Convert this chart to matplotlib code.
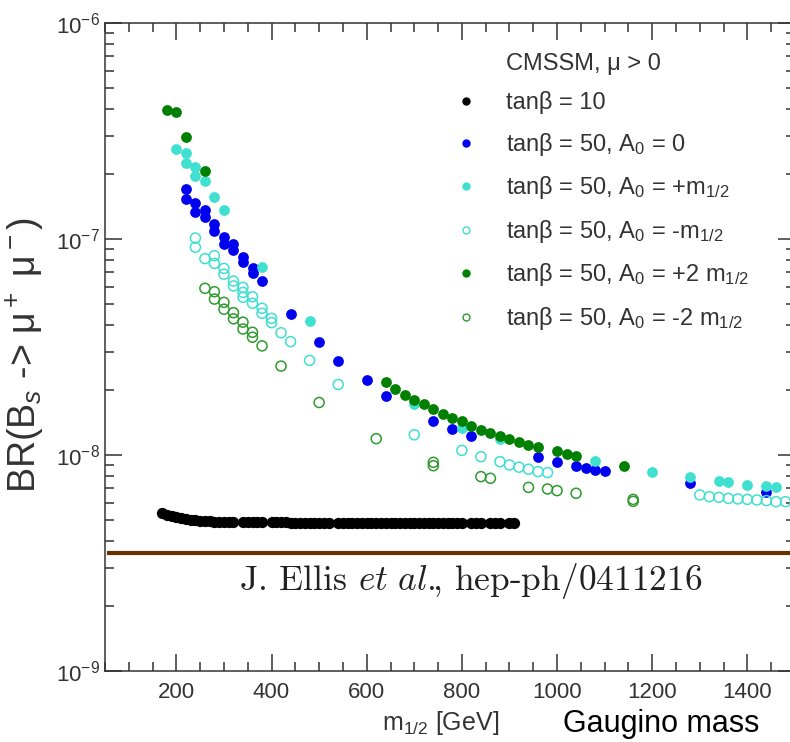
import matplotlib
matplotlib.use("Agg")
import matplotlib.pyplot as plt
from matplotlib.lines import Line2D
from matplotlib.ticker import MultipleLocator, LogLocator, FixedLocator, FixedFormatter, NullFormatter

plt.rcParams['font.family'] = ['Liberation Sans', 'DejaVu Sans']
plt.rcParams['mathtext.fontset'] = 'custom'
plt.rcParams['mathtext.rm'] = 'Liberation Sans'
plt.rcParams['mathtext.it'] = 'Liberation Sans:italic'
plt.rcParams['mathtext.bf'] = 'Liberation Sans:bold'

# tan(beta) = 10 scan
m_tb10 = [170, 180, 190, 200, 210, 220, 230, 240, 250, 260, 270, 280, 290, 300,
          310, 320, 340, 350, 360, 370, 380, 400, 410, 420, 430, 440, 450, 460,
          470, 480, 490, 500, 510, 520, 540, 550, 560, 570, 580, 590, 600, 610,
          620, 630, 640, 650, 660, 670, 680, 690, 700, 710, 720, 730, 740, 750,
          760, 770, 780, 790, 800, 820, 830, 840, 860, 870, 880, 900, 910]
br_tb10 = [5.37e-9, 5.28e-9, 5.21e-9, 5.14e-9, 5.09e-9, 5.05e-9, 5.02e-9, 4.99e-9,
           4.97e-9, 4.95e-9, 4.93e-9, 4.92e-9, 4.91e-9, 4.90e-9, 4.90e-9, 4.89e-9,
           4.89e-9, 4.88e-9, 4.88e-9, 4.88e-9, 4.87e-9, 4.87e-9, 4.87e-9, 4.87e-9,
           4.87e-9, 4.86e-9, 4.86e-9, 4.86e-9, 4.86e-9, 4.86e-9, 4.86e-9, 4.86e-9,
           4.86e-9, 4.86e-9, 4.86e-9, 4.86e-9, 4.85e-9, 4.85e-9, 4.85e-9, 4.85e-9,
           4.85e-9, 4.85e-9, 4.85e-9, 4.85e-9, 4.85e-9, 4.85e-9, 4.85e-9, 4.85e-9,
           4.85e-9, 4.85e-9, 4.85e-9, 4.85e-9, 4.85e-9, 4.85e-9, 4.85e-9, 4.85e-9,
           4.85e-9, 4.85e-9, 4.85e-9, 4.84e-9, 4.84e-9, 4.84e-9, 4.84e-9, 4.84e-9,
           4.84e-9, 4.84e-9, 4.84e-9, 4.83e-9, 4.83e-9]

# tan(beta) = 50, A0 = 0
m_a0 = [220, 220, 240, 240, 260, 260, 280, 280, 300, 300, 320, 320, 340, 340,
        360, 360, 380, 440, 500, 540, 600, 640, 740, 780, 820, 960, 1000, 1040,
        1060, 1080, 1100, 1280, 1440]
br_a0 = [1.70e-7, 1.53e-7, 1.46e-7, 1.33e-7, 1.36e-7, 1.26e-7, 1.17e-7, 1.09e-7,
         1.02e-7, 9.48e-8, 9.48e-8, 8.89e-8, 8.28e-8, 7.80e-8, 7.36e-8, 6.93e-8,
         6.39e-8, 4.50e-8, 3.32e-8, 2.72e-8, 2.22e-8, 1.88e-8, 1.44e-8, 1.32e-8,
         1.22e-8, 9.76e-9, 9.31e-9, 8.89e-9, 8.68e-9, 8.53e-9, 8.44e-9, 7.39e-9,
         6.72e-9]

# tan(beta) = 50, A0 = +m1/2
m_ap1 = [200, 220, 220, 240, 240, 260, 280, 300, 380, 480, 700, 800, 880, 1080,
         1200, 1280, 1340, 1360, 1400, 1440, 1460]
br_ap1 = [2.61e-7, 2.51e-7, 2.26e-7, 2.16e-7, 1.96e-7, 1.85e-7, 1.57e-7, 1.36e-7,
          7.44e-8, 4.19e-8, 1.72e-8, 1.33e-8, 1.19e-8, 9.37e-9, 8.37e-9, 7.94e-9,
          7.58e-9, 7.52e-9, 7.26e-9, 7.18e-9, 7.08e-9]

# tan(beta) = 50, A0 = -m1/2
m_am1 = [240, 240, 260, 280, 280, 300, 300, 320, 320, 340, 340, 340, 360, 360,
         380, 380, 400, 400, 420, 440, 480, 540, 700, 800, 840, 880, 900, 920,
         940, 960, 980, 1300, 1320, 1340, 1360, 1380, 1400, 1420, 1440, 1460, 1480]
br_am1 = [1.01e-7, 9.16e-8, 8.11e-8, 8.37e-8, 7.71e-8, 7.31e-8, 6.87e-8, 6.39e-8,
          6.06e-8, 5.97e-8, 5.66e-8, 5.37e-8, 5.40e-8, 5.04e-8, 4.78e-8, 4.53e-8,
          4.29e-8, 4.10e-8, 3.68e-8, 3.35e-8, 2.74e-8, 2.12e-8, 1.24e-8, 1.05e-8,
          9.82e-9, 9.31e-9, 8.99e-9, 8.78e-9, 8.59e-9, 8.38e-9, 8.29e-9, 6.53e-9,
          6.41e-9, 6.37e-9, 6.30e-9, 6.26e-9, 6.23e-9, 6.19e-9, 6.15e-9, 6.08e-9,
          6.08e-9]

# tan(beta) = 50, A0 = +2 m1/2
m_ap2 = [180, 200, 220, 260, 640, 660, 680, 700, 720, 740, 760, 780, 800, 820,
         840, 860, 880, 900, 920, 940, 960, 1000, 1020, 1040, 1140]
br_ap2 = [3.95e-7, 3.88e-7, 2.98e-7, 2.07e-7, 2.18e-8, 2.03e-8, 1.90e-8, 1.80e-8,
          1.72e-8, 1.63e-8, 1.54e-8, 1.48e-8, 1.43e-8, 1.36e-8, 1.30e-8, 1.26e-8,
          1.22e-8, 1.19e-8, 1.15e-8, 1.11e-8, 1.09e-8, 1.04e-8, 1.01e-8, 9.93e-9,
          8.92e-9]

# tan(beta) = 50, A0 = -2 m1/2
m_am2 = [260, 280, 280, 300, 300, 320, 320, 340, 340, 360, 360, 380, 420, 500,
         620, 740, 740, 840, 860, 940, 980, 1000, 1040, 1160, 1160]
br_am2 = [5.91e-8, 5.70e-8, 5.27e-8, 5.09e-8, 4.73e-8, 4.56e-8, 4.27e-8, 4.12e-8,
          3.83e-8, 3.70e-8, 3.51e-8, 3.20e-8, 2.58e-8, 1.75e-8, 1.19e-8, 9.25e-9,
          8.92e-9, 7.94e-9, 7.80e-9, 7.08e-9, 6.96e-9, 6.84e-9, 6.65e-9, 6.23e-9,
          6.10e-9]

# experimental reference line
br_limit = 3.53e-9

x_ticks = [200, 400, 600, 800, 1000, 1200, 1400]
y_ticks = [1e-9, 1e-8, 1e-7, 1e-6]
y_tick_labels = ['10$^{-9}$', '10$^{-8}$', '10$^{-7}$', '10$^{-6}$']

labels = ['CMSSM, μ > 0',
          'tanβ = 10',
          'tanβ = 50, A$_0$ = 0',
          'tanβ = 50, A$_0$ = +m$_{1/2}$',
          'tanβ = 50, A$_0$ = -m$_{1/2}$',
          'tanβ = 50, A$_0$ = +2 m$_{1/2}$',
          'tanβ = 50, A$_0$ = -2 m$_{1/2}$']

BLUE = '#0000f0'
CYAN = '#40e0d0'
GREEN = '#008000'
GREEN_OPEN = '#2f9a2f'
GREY = '#333333'

fig = plt.figure(figsize=(7.9, 7.42), dpi=100)
ax = fig.add_axes([0.1329, 0.0957, 0.8734, 0.8733])

ms = 60
ax.scatter(m_tb10, br_tb10, s=66, color='black', linewidths=0, zorder=3)
ax.scatter(m_a0, br_a0, s=ms, color=BLUE, linewidths=0, zorder=3)
ax.scatter(m_ap1, br_ap1, s=ms, color=CYAN, linewidths=0, zorder=3)
ax.scatter(m_am1, br_am1, s=52, facecolors='none', edgecolors=CYAN,
           linewidths=1.1, zorder=3)
ax.scatter(m_ap2, br_ap2, s=ms, color=GREEN, linewidths=0, zorder=3)
ax.scatter(m_am2, br_am2, s=52, facecolors='none', edgecolors=GREEN_OPEN,
           linewidths=1.1, zorder=3)

ax.axhline(br_limit, xmin=0.006, xmax=1, color='#663300', lw=3, zorder=2)
ax.text(0.530, 0.139, r'$\text{J. Ellis }\mathit{et\ al.}\!\!\text{, hep-ph/0411216}$',
        transform=ax.transAxes, ha='center', va='center', fontsize=25.5,
        math_fontfamily='cm', color='#222222')

ax.set_yscale('log')
ax.set_xlim(50, 1500)
ax.set_ylim(1e-9, 1e-6)

ax.xaxis.set_major_locator(FixedLocator(x_ticks))
ax.xaxis.set_minor_locator(MultipleLocator(50))
ax.yaxis.set_major_locator(FixedLocator(y_ticks))
ax.yaxis.set_major_formatter(FixedFormatter(y_tick_labels))
ax.yaxis.set_minor_locator(LogLocator(base=10, subs=range(2, 10)))
ax.yaxis.set_minor_formatter(NullFormatter())

ax.tick_params(which='both', direction='in', top=True, right=True,
               color=GREY, labelcolor=GREY, labelsize=16, width=1.1)
ax.tick_params(which='major', length=12)
ax.tick_params(which='minor', length=6.5)
ax.tick_params(axis='x', which='major', pad=8)
for side in ax.spines.values():
    side.set_color(GREY)
    side.set_linewidth(1.1)

ax.set_xlabel('m$_{1/2}$ [GeV]', fontsize=18, color=GREY)
ax.xaxis.set_label_coords(0.486, -0.058)
ax.set_ylabel('BR(B$_s$ -> μ$^+$ μ$^-$)', fontsize=27, color=GREY)
ax.yaxis.set_label_coords(-0.086, 0.488)

handles = [Line2D([], [], linestyle='none'),
           Line2D([], [], marker='o', linestyle='none', color='black', markersize=5),
           Line2D([], [], marker='o', linestyle='none', color=BLUE, markersize=5),
           Line2D([], [], marker='o', linestyle='none', color=CYAN, markersize=5),
           Line2D([], [], marker='o', linestyle='none', markerfacecolor='none',
                  markeredgecolor=CYAN, markersize=5),
           Line2D([], [], marker='o', linestyle='none', color=GREEN, markersize=5),
           Line2D([], [], marker='o', linestyle='none', markerfacecolor='none',
                  markeredgecolor=GREEN_OPEN, markersize=5)]
ax.legend(handles, labels, loc='upper left', bbox_to_anchor=(0.506, 0.954),
          frameon=False, fontsize=17, labelcolor=GREY, handlelength=1.0,
          handletextpad=1.2, labelspacing=0.7, borderpad=0, borderaxespad=0)

fig.text(0.837, 0.024, 'Gaugino mass', fontsize=22, color='black',
         ha='center', va='center')

fig.savefig('out.png', dpi=100)
